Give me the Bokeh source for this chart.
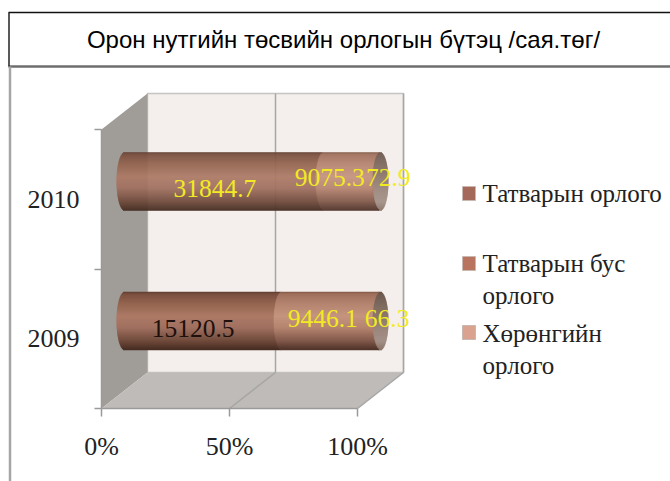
import numpy as np
from bokeh.plotting import figure
from bokeh.models import FixedTicker
from bokeh.core.properties import value
from bokeh.embed import file_html
from bokeh.resources import INLINE

# ---- data ----
title_text = "Орон нутгийн төсвийн орлогын бүтэц /сая.төг/"
categories = ["2009", "2010"]
series_names = ["Татварын орлого", "Татварын бус\nорлого", "Хөрөнгийн\nорлого"]
tax_income = [15120.5, 31844.7]
nontax_income = [9446.1, 9075.3]
asset_income = [66.3, 72.9]
legend_colors = ["#a5695a", "#b9745f", "#d9a38f"]
label_colors = [["#1e100c", "#f2ea22", "#f2ea22"], ["#f2ea22", "#f2ea22", "#f2ea22"]]

# ---- page geometry: image pixels -> data ----
W, H = 670, 481
PX_PCT = 2.56     # px per percent
PX_CAT = 139.5    # px per category
X0, Y0 = 101, 408  # image px of the origin on the front plane
def X(px): return (px - X0) / PX_PCT
def Y(py): return (Y0 - py) / PX_CAT
DX, DY = 46 / PX_PCT, 36 / PX_CAT   # depth of the 3-D box in data units

FONT = "Liberation Serif"
p = figure(width=W, height=H, output_backend="svg", toolbar_location=None,
           x_range=(X(0), X(W)), y_range=(Y(H), Y(0)),
           min_border=0, outline_line_color=None, background_fill_color="white",
           border_fill_color="white")
p.grid.visible = False

# 3-D box
WALL, FLOOR, SIDE, GRID = "#f4efec", "#bfbbb8", "#a09c98", "#a6a6a6"
p.quad(left=[DX], right=[100 + DX], bottom=[DY], top=[2 + DY], fill_color=WALL,
       line_color="#c4c4c4", line_width=1.5)
p.patch([0, DX, DX, 0], [0, DY, 2 + DY, 2], fill_color=SIDE, line_color=None)
p.patch([0, DX, 100 + DX, 100], [0, DY, DY, 0], fill_color=FLOOR, line_color=None)
p.segment([50 + DX] , [DY], [50 + DX], [2 + DY], line_color=GRID, line_width=1.5)
p.segment([100 + DX], [DY], [100 + DX], [2 + DY], line_color=GRID, line_width=1.5)
p.segment([50, 100], [0, 0], [50 + DX, 100 + DX], [DY, DY], line_color=GRID, line_width=1.5)

# stacked cylinders
vals = np.array([tax_income, nontax_income, asset_income], float)
pct = vals / vals.sum(axis=0) * 100
starts = np.vstack([np.zeros(2), np.cumsum(pct, axis=0)[:-1]])
ends = np.cumsum(pct, axis=0)
BAR_H = 58 / PX_CAT
RX = 8 / PX_PCT
N = 58
shade_pos = [0, .04, .2, .42, .62, .85, 1]
shades = [
    ["#5f3b2e", "#7a4f3f", "#93644f", "#ad7a66", "#a07060", "#6f4a3b", "#452b21"],
    ["#7f5645", "#a0705c", "#b4836f", "#c4947f", "#b5846f", "#80584a", "#4e3228"],
    ["#7f5645", "#a0705c", "#b4836f", "#c4947f", "#b5846f", "#80584a", "#4e3228"],
]
face = ["#645046", "#6f5a50", "#7c675c", "#8c776c", "#9a857b", "#a39087", "#8a7468"]

def rgb(h): return np.array([int(h[i:i + 2], 16) for i in (1, 3, 5)], float)
def shade(stops, t):
    c = np.array([np.interp(t, shade_pos, [rgb(s)[k] for s in stops]) for k in range(3)])
    return "#%02x%02x%02x" % tuple(int(round(v)) for v in c)

L, R, B, T, C = [], [], [], [], []
for j in range(2):
    yc = j + .5 + DY / 2
    for i in range(N):
        t = (i + .5) / N
        v = 1 - 2 * t
        w = RX * np.sqrt(max(0, 1 - v * v))
        top = yc + BAR_H / 2 - i * BAR_H / N
        bot = top - BAR_H / N - 0.6 / PX_CAT
        for s in range(3):
            L.append(starts[s, j] + DX / 2 - w)
            R.append(ends[s, j] + DX / 2 - w + 0.4 / PX_PCT)
            B.append(bot); T.append(top); C.append(shade(shades[s], t))
        L.append(ends[2, j] + DX / 2 - w)
        R.append(ends[2, j] + DX / 2 + w)
        B.append(bot); T.append(top); C.append(shade(face, t))
p.quad(left=L, right=R, bottom=B, top=T, fill_color=C, line_color=None)

# data labels
lx, ly, lt, lc, ox, oy = [], [], [], [], [], []
label_dx = [[-10, -8, 7], [-9, -22, 8]]
label_dy = [[8, -2, -2], [7, -4, -4]]
for j in range(2):
    for s in range(3):
        lx.append((starts[s, j] + ends[s, j]) / 2 + DX / 2)
        ly.append(j + .5 + DY / 2)
        lt.append(str(vals[s, j]))
        lc.append(label_colors[j][s])
        ox.append(label_dx[j][s]); oy.append(label_dy[j][s])
p.text(x=lx, y=ly, text=lt, text_color=lc, x_offset=ox, y_offset=oy, text_align="center",
       text_baseline="middle", text_font=value(FONT), text_font_size="25.5px")

# axes
AX = "#9a9a9a"
xa, ya = p.xaxis[0], p.yaxis[0]
xa.fixed_location = 0
ya.fixed_location = 0
xa.bounds = (0, 100)
ya.bounds = (0, 2)
xa.ticker = FixedTicker(ticks=[0, 50, 100])
xa.major_label_overrides = {0: "0%", 50: "50%", 100: "100%"}
ya.ticker = FixedTicker(ticks=[.5, 1.5], minor_ticks=[0, 1, 2])
ya.major_label_overrides = {.5: categories[0], 1.5: categories[1]}
for a in (xa, ya):
    a.axis_line_color = AX
    a.axis_line_width = 1.5
    a.major_tick_line_color = AX
    a.major_tick_line_width = 1.5
    a.major_label_text_font = FONT
    a.major_label_text_font_size = "26px"
    a.major_label_text_color = "#222222"
xa.major_tick_out, xa.major_tick_in = 8, 0
xa.minor_tick_line_color = None
xa.major_label_standoff = 15
ya.major_tick_out, ya.major_tick_in = 0, 0
ya.minor_tick_out, ya.minor_tick_in = 7, 0
ya.minor_tick_line_color = AX
ya.minor_tick_line_width = 1.5
ya.major_label_standoff = 15

# legend
swatch_y = [193, 263, 332]
text_y = [[193], [263, 295], [333, 365]]
p.quad(left=[X(462)] * 3, right=[X(475)] * 3,
       bottom=[Y(y + 7) for y in swatch_y], top=[Y(y - 7) for y in swatch_y],
       fill_color=legend_colors, line_color="#c8b8b0", line_width=1)
tx, ty, tt = [], [], []
for name, ys in zip(series_names, text_y):
    for line, y in zip(name.split("\n"), ys):
        tx.append(X(482)); ty.append(Y(y)); tt.append(line)
p.text(x=tx, y=ty, text=tt, text_color="#222222", text_align="left", text_baseline="middle",
       text_font=value(FONT), text_font_size="25px")

# title box and frame
p.segment([X(8), X(8)], [Y(12), Y(66)], [X(670), X(670)], [Y(12), Y(66)],
          line_color=["#111111", "#6e6e6e"], line_width=[1.5, 2.5])
p.segment([X(8.5)], [Y(12)], [X(8.5)], [Y(66)], line_color="#222222", line_width=1.5)
p.segment([X(9.5)], [Y(66)], [X(9.5)], [Y(481)], line_color="#a6a6a6", line_width=2.5)
p.text(x=[X(343)], y=[Y(39)], text=[title_text], text_color="#000000", text_align="center",
       text_baseline="middle", text_font=value("Liberation Sans"), text_font_size="24px")

open("out.html", "w").write(file_html(p, INLINE))
